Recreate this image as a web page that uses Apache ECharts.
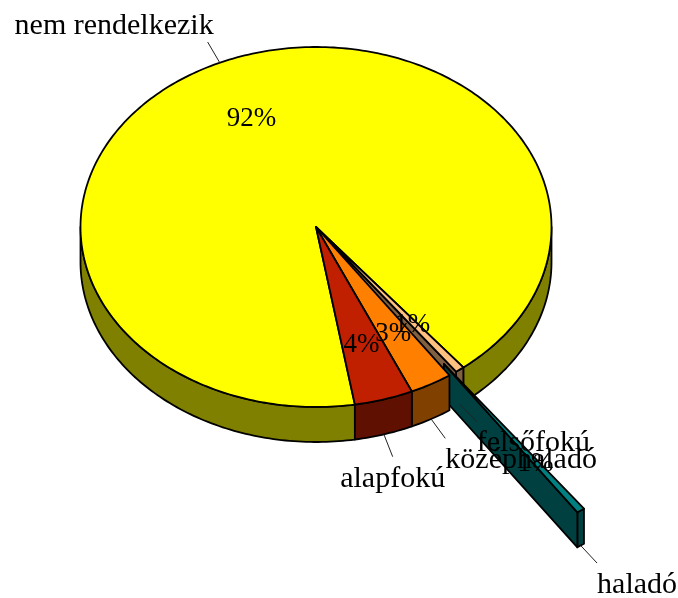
<!DOCTYPE html>
<html>
<head>
<meta charset="utf-8">
<style>
  html, body { margin: 0; padding: 0; background: #fff; }
  #chart { width: 678px; height: 598px; }
</style>
<script src="https://cdn.jsdelivr.net/npm/echarts@6/dist/echarts.min.js"></script>
</head>
<body>
<div id="chart"></div>
<script>
// slices in the order they run round the pie, counter-clockwise on screen
var categories = ['alapfokú', 'középhaladó', 'haladó', 'felsőfokú', 'nem rendelkezik'];
var shares = [4.03, 2.92, 0.55, 0.62, 91.88];
var explode = [0, 0, 0.935, 0, 0];
var topColors = ['#c02000', '#ff8000', '#008080', '#ffc080', '#ffff00'];
var wallColors = ['#601000', '#804000', '#004040', '#806040', '#808000'];
var paintOrder = [6, 5, 4, 3, 1]; // yellow first, the exploded sliver goes under orange

// pie layout, the ellipse stands in for the 3d tilt
var cx = 316, cy = 227, rx = 235.5, ry = 180, depth = 35;
var firstAngle = 9.5; // degrees from south, where the first slice starts
var nameFont = '30px "Liberation Serif"';
var percentFont = '27px "Liberation Serif"';

var total = shares.reduce(function (a, b) { return a + b; }, 0);
var rad = Math.PI / 180;

// start/end angle of each slice
var ranges = [];
var acc = firstAngle;
shares.forEach(function (v) {
  var next = acc + v / total * 360;
  ranges.push([acc, next]);
  acc = next;
});

function rim(c, a, r) {
  return [c[0] + rx * r * Math.sin(a * rad), c[1] + ry * r * Math.cos(a * rad)];
}

function arc(c, from, to) {
  var pts = [];
  var n = Math.max(2, Math.ceil(to - from));
  for (var i = 0; i <= n; i++) pts.push(rim(c, from + (to - from) * i / n, 1));
  return pts;
}

function down(p) { return [p[0], p[1] + depth]; }

function poly(points, fill, z) {
  return {
    type: 'polygon',
    z2: z,
    shape: { points: points },
    style: { fill: fill, stroke: '#000', lineWidth: 1.8, lineJoin: 'round' }
  };
}

// outer wall, only the part of the range that faces the viewer
function walls(c, from, to, fill, z) {
  var out = [];
  [[-90, 90], [270, 450]].forEach(function (front) {
    var a = Math.max(from, front[0]);
    var b = Math.min(to, front[1]);
    if (b <= a) return;
    var edge = arc(c, a, b);
    out.push(poly(edge.concat(edge.slice().reverse().map(down)), fill, z));
  });
  return out;
}

function renderSlice(params, api) {
  var i = params.dataIndex;
  var from = ranges[i][0], to = ranges[i][1], mid = (from + to) / 2;
  var z = paintOrder[i];
  var c = rim([cx, cy], mid, explode[i]);
  var kids = walls(c, from, to, wallColors[i], z);

  if (explode[i]) {
    // the pulled out slice shows its whole side
    var p = rim(c, from, 1);
    kids.push(poly([c, p, down(p), down(c)], wallColors[i], z));
  } else if (i > 0 && explode[i - 1]) {
    // neighbour of the gap: triangle is enough, the rest is under the next slices
    var q = rim(c, from, 1);
    kids.push(poly([c, q, down(q)], wallColors[i], z));
  }
  kids.push(poly([c].concat(arc(c, from, to)), topColors[i], z));

  // percent label sits at 2/3 of the radius
  var lp = rim(c, mid, 0.67);
  kids.push({
    type: 'text',
    z2: 20,
    style: {
      text: Math.round(api.value(0) / total * 100) + '%',
      x: lp[0], y: lp[1] + 2,
      font: percentFont, fill: '#000', align: 'center', verticalAlign: 'middle'
    }
  });

  // leader line and name
  var s = rim(c, mid, 1);
  var front = Math.cos(mid * rad) > 0;
  if (front) s = down(s);
  var dx = rx * Math.sin(mid * rad), dy = ry * Math.cos(mid * rad);
  var len = Math.sqrt(dx * dx + dy * dy);
  dx /= len; dy /= len;
  var e = [s[0] + dx * 24, s[1] + dy * 24];
  kids.push({
    type: 'line',
    z2: 21,
    shape: { x1: s[0], y1: s[1], x2: e[0], y2: e[1] },
    style: { stroke: '#222', lineWidth: 1 }
  });
  kids.push({
    type: 'text',
    z2: 22,
    style: {
      text: categories[i],
      x: dx < -0.45 ? e[0] + 6 : e[0],
      y: dy > 0 ? e[1] + 7 : e[1] - 1,
      font: nameFont, fill: '#000',
      align: dx > 0.45 ? 'left' : (dx < -0.45 ? 'right' : 'center'),
      verticalAlign: dy > 0 ? 'top' : 'bottom'
    }
  });

  return { type: 'group', children: kids };
}

var chart = echarts.init(document.getElementById('chart'), null, { renderer: 'canvas' });
chart.setOption({
  animation: false,
  backgroundColor: '#fff',
  series: [{
    type: 'custom',
    coordinateSystem: 'none',
    renderItem: renderSlice,
    clip: false,
    data: categories.map(function (name, i) {
      return { name: name, value: [shares[i]] };
    })
  }]
});
</script>
</body>
</html>
